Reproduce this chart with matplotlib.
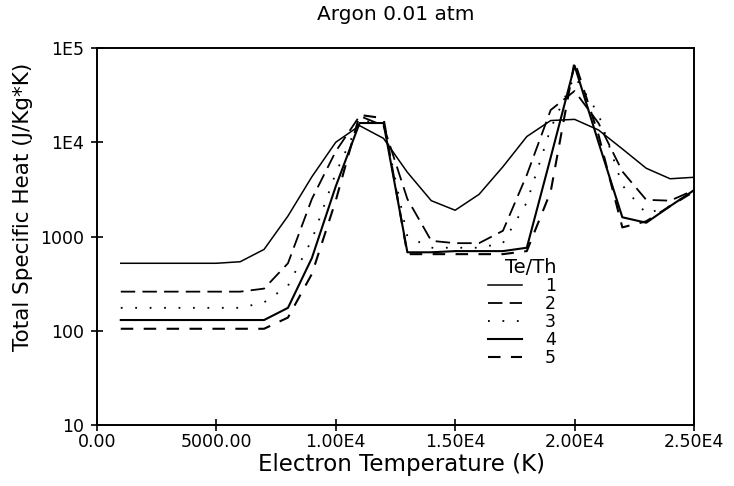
import matplotlib.pyplot as plt

# Electron temperature (K)
temp = [1000, 2000, 3000, 4000, 5000, 6000, 7000, 8000, 9000, 10000,
        11000, 12000, 13000, 14000, 15000, 16000, 17000, 18000, 19000, 20000,
        21000, 22000, 23000, 24000, 25000]

# Total specific heat (J/Kg*K) for each Te/Th ratio
cp1 = [520, 520, 520, 520, 520, 540, 730, 1650, 4300, 10000,
       15000, 11000, 4800, 2400, 1900, 2800, 5500, 11500, 17000, 17500,
       13500, 8500, 5300, 4100, 4250]
cp2 = [260, 260, 260, 260, 260, 260, 280, 520, 2500, 8000,
       19000, 15000, 2500, 900, 850, 850, 1150, 4500, 22000, 35000,
       16000, 4900, 2450, 2400, 3100]
cp3 = [175, 175, 175, 175, 175, 175, 200, 300, 920, 4700,
       17000, 16000, 1000, 760, 760, 760, 850, 2300, 14000, 50000,
       20000, 3500, 1750, 2100, 3100]
cp4 = [130, 130, 130, 130, 130, 130, 130, 175, 590, 3400,
       16000, 16000, 680, 680, 700, 700, 700, 760, 6900, 65000,
       10000, 1600, 1400, 2100, 3100]
cp5 = [105, 105, 105, 105, 105, 105, 105, 138, 400, 2400,
       19500, 18000, 650, 650, 650, 650, 650, 700, 3000, 72000,
       12000, 1250, 1450, 2100, 3000]

labels = ['1', '2', '3', '4', '5']
ticks_x = [0, 5000, 10000, 15000, 20000, 25000]
ticks_x_lbl = ['0.00', '5000.00', '1.00E4', '1.50E4', '2.00E4', '2.50E4']
ticks_y = [10, 100, 1000, 1e4, 1e5]
ticks_y_lbl = ['10', '100', '1000', '1E4', '1E5']

fig = plt.figure(figsize=(7.34, 4.86), dpi=100)
ax = fig.add_axes([0.132, 0.1255, 0.8135, 0.7757])

styles = [
    dict(linestyle='-', lw=1.1),
    dict(linestyle=(0, (8, 4)), lw=1.3),
    dict(linestyle=(0, (1, 7)), lw=1.3),
    dict(linestyle='-', lw=1.5),
    dict(linestyle=(0, (6, 5)), lw=1.5),
]
for cp, lab, st in zip([cp1, cp2, cp3, cp4, cp5], labels, styles):
    ax.plot(temp, cp, color='black', label=lab, **st)

ax.set_yscale('log')
ax.set_xlim(0, 25000)
ax.set_ylim(10, 1e5)
ax.set_xticks(ticks_x)
ax.set_xticklabels(ticks_x_lbl)
ax.set_yticks(ticks_y)
ax.set_yticklabels(ticks_y_lbl)
ax.minorticks_off()
ax.tick_params(direction='inout', length=8, width=1.2, labelsize=12.5)
ax.tick_params(axis='y', pad=5)
ax.tick_params(axis='x', pad=2)
for s in ax.spines.values():
    s.set_linewidth(1.4)

ax.set_title('Argon 0.01 atm', fontsize=14.5, pad=20)
ax.set_xlabel('Electron Temperature (K)', fontsize=16.5, labelpad=0)
ax.set_ylabel('Total Specific Heat (J/Kg*K)', fontsize=15.5)
ax.yaxis.set_label_coords(-0.107, 0.578)
ax.xaxis.set_label_coords(0.51, -0.075)

leg = ax.legend(title='Te/Th', frameon=False, fontsize=12.5, title_fontsize=14,
                loc='upper left', bbox_to_anchor=(0.64, 0.467), handlelength=2.0,
                labelspacing=0.0, handletextpad=1.3, borderpad=0)
leg._legend_box.align = 'right'

plt.savefig('out.png', dpi=100)
